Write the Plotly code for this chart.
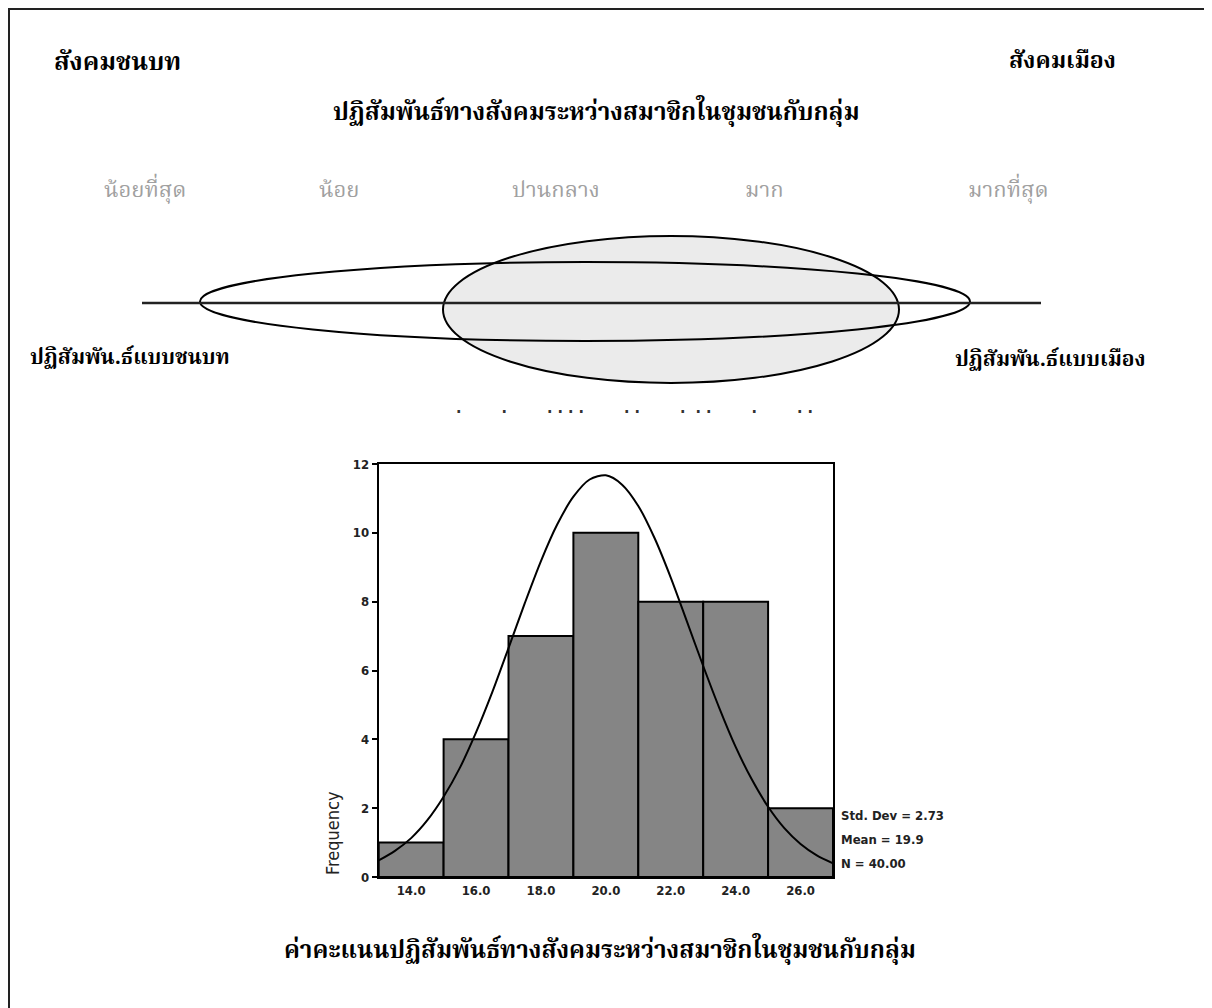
#!/usr/bin/env python3

# Libraries
import plotly.graph_objects as go

# Histogram data (score classes and frequencies)
bin_centers = [14, 16, 18, 20, 22, 24, 26]
frequency   = [1, 4, 7, 10, 8, 8, 2]
tick_labels = ['14.0', '16.0', '18.0', '20.0', '22.0', '24.0', '26.0']

# Normal curve
curve_x = [13, 13.5, 14, 14.5, 15, 15.5, 16, 16.5, 17, 17.5, 18, 18.5, 19, 19.5, 20,
           20.5, 21, 21.5, 22, 22.5, 23, 23.5, 24, 24.5, 25, 25.5, 26, 26.5, 27]
curve_y = [0.48, 0.76, 1.13, 1.65, 2.33, 3.17, 4.2, 5.37, 6.65, 7.95, 9.18, 10.24, 11.05, 11.55, 11.67,
           11.4, 10.78, 9.85, 8.7, 7.42, 6.13, 4.9, 3.78, 2.83, 2.04, 1.42, 0.96, 0.63, 0.4]

# Summary statistics
stats_text = ['Std. Dev = 2.73', 'Mean = 19.9', 'N = 40.00']

# Scale labels of the diagram
scale_labels = ['น้อยที่สุด', 'น้อย', 'ปานกลาง', 'มาก', 'มากที่สุด']

# Fonts
thai_font = 'Noto Serif Thai, Noto Sans Thai Looped, Norasi, Loma, Garuda, Noto Sans Thai, sans-serif'
spss_font = 'DejaVu Sans Condensed, DejaVu Sans, sans-serif'

W, H = 1212, 1008
OFF = 8   # page margin of the html body


def px(x):
    return (x - OFF) / W


def py(y):
    return 1 - (y - OFF) / H


# Create figure
fig = go.Figure()

# Histogram bars
fig.add_trace(go.Bar(
    x = bin_centers, y = frequency, width = 2,
    marker = dict(color = '#858585', line = dict(color = 'black', width = 2)),
    xaxis = 'x', yaxis = 'y', showlegend = False
))

# Normal curve
fig.add_trace(go.Scatter(
    x = curve_x, y = curve_y, mode = 'lines',
    line = dict(color = 'black', width = 2, shape = 'spline', smoothing = 0.8),
    xaxis = 'x', yaxis = 'y', showlegend = False
))

# Shapes of the diagram (screen pixel coordinates on the helper axes)
shapes = [
    # outer frame
    dict(type = 'rect', xref = 'x2', yref = 'y2', x0 = 9, x1 = 1207, y0 = 9, y1 = 1040,
         line = dict(color = '#222222', width = 2)),
    # urban ellipse (filled)
    dict(type = 'circle', xref = 'x2', yref = 'y2', x0 = 443, x1 = 899, y0 = 236, y1 = 383,
         fillcolor = '#ebebeb', line = dict(color = 'black', width = 2)),
    # rural ellipse
    dict(type = 'circle', xref = 'x2', yref = 'y2', x0 = 200, x1 = 970, y0 = 262, y1 = 341,
         line = dict(color = 'black', width = 2)),
    # horizontal axis of the diagram
    dict(type = 'line', xref = 'x2', yref = 'y2', x0 = 142, x1 = 1041, y0 = 303, y1 = 303,
         line = dict(color = '#222222', width = 2.5)),
]

# Texts of the diagram
annotations = [
    dict(text = '<b>สังคมชนบท</b>', x = 52, y = 63, xanchor = 'left',
         font = dict(size = 25, family = thai_font, color = 'black')),
    dict(text = '<b>สังคมเมือง</b>', x = 1118, y = 62, xanchor = 'right',
         font = dict(size = 23, family = thai_font, color = 'black')),
    dict(text = '<b>ปฏิสัมพันธ์ทางสังคมระหว่างสมาชิกในชุมชนกับกลุ่ม</b>', x = 596, y = 113,
         font = dict(size = 24, family = thai_font, color = 'black')),
    dict(text = '<b>ปฏิสัมพัน.ธ์แบบชนบท</b>', x = 28, y = 358, xanchor = 'left',
         font = dict(size = 21, family = thai_font, color = 'black')),
    dict(text = '<b>ปฏิสัมพัน.ธ์แบบเมือง</b>', x = 1147, y = 360, xanchor = 'right',
         font = dict(size = 21, family = thai_font, color = 'black')),
    dict(text = '<b>ค่าคะแนนปฏิสัมพันธ์ทางสังคมระหว่างสมาชิกในชุมชนกับกลุ่ม</b>', x = 600, y = 951,
         font = dict(size = 24, family = thai_font, color = 'black')),
    dict(text = '<b>.        .        . . . .        . .        .  . .        .        . .</b>', x = 634, y = 407,
         font = dict(size = 16, family = spss_font, color = '#333333')),
]

for label, xc in zip(scale_labels, [145, 339, 556, 764, 1008]):
    annotations.append(dict(text = label, x = xc, y = 191,
                            font = dict(size = 22, family = thai_font, color = '#a0a0a0')))

for a in annotations:
    a.update(xref = 'x2', yref = 'y2', showarrow = False, yanchor = 'middle')

# Statistics and axis title of the histogram
for i, s in enumerate(stats_text):
    annotations.append(dict(text = '<b>' + s + '</b>', xref = 'paper', yref = 'paper',
                            x = px(839), y = py(815 + 24 * i), xanchor = 'left', yanchor = 'middle',
                            showarrow = False, font = dict(size = 13, family = spss_font, color = '#222222')))

annotations.append(dict(text = 'Frequency', xref = 'paper', yref = 'paper', x = px(332), y = py(833),
                        textangle = -90, showarrow = False, xanchor = 'center', yanchor = 'middle',
                        font = dict(size = 18, family = spss_font, color = '#222222')))

# Update layout
fig.update_layout(
    width  = W,
    height = H,
    margin = dict(l = 0, r = 0, t = 0, b = 0),

    xaxis = dict(
        domain    = [px(378.7), px(833)],
        range     = [13, 27],
        tickmode  = 'array',
        tickvals  = bin_centers,
        ticktext  = tick_labels,
        ticks     = '',
        showline  = True,
        mirror    = True,
        linecolor = 'black',
        linewidth = 2,
        showgrid  = False,
        zeroline  = False,
        tickfont  = dict(size = 13, family = spss_font, color = '#222222', weight = 'bold'),
        anchor    = 'y'
    ),

    yaxis = dict(
        domain    = [py(877), py(464)],
        range     = [0, 12],
        tickmode  = 'linear',
        tick0     = 0,
        dtick     = 2,
        ticks     = 'outside',
        ticklen   = 5,
        tickwidth = 2,
        tickcolor = 'black',
        showline  = True,
        mirror    = True,
        linecolor = 'black',
        linewidth = 2,
        showgrid  = False,
        zeroline  = False,
        tickfont  = dict(size = 13, family = spss_font, color = '#222222', weight = 'bold'),
        anchor    = 'x'
    ),

    xaxis2 = dict(domain = [0, 1], range = [OFF, W + OFF], visible = False, anchor = 'y2'),
    yaxis2 = dict(domain = [0, 1], range = [H + OFF, OFF], visible = False, anchor = 'x2'),

    shapes      = shapes,
    annotations = annotations,

    plot_bgcolor  = 'rgba(0, 0, 0, 0)',
    paper_bgcolor = 'white',
    template      = None
)

# Save the plot
fig.write_html('out.html')
